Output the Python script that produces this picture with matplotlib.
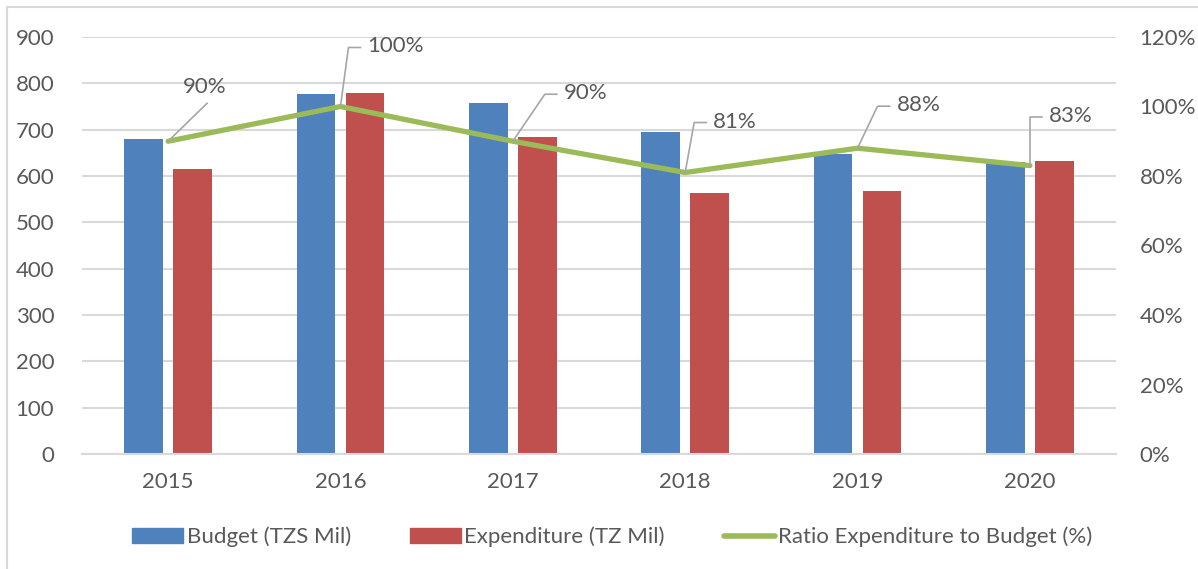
import matplotlib
matplotlib.use("Agg")
import matplotlib.pyplot as plt
from matplotlib.lines import Line2D
from matplotlib.patches import Patch
import numpy as np

plt.rcParams['font.family'] = ['Lato', 'DejaVu Sans']

years = ["2015", "2016", "2017", "2018", "2019", "2020"]
budget = [679, 776, 757, 694, 648, 631]
expenditure = [615, 780, 685, 563, 568, 632]
ratio = [90, 100, 90, 81, 88, 83]
# leader elbow offsets in pixels (dx, dy) for each data label
label_off = [(39, 38), (8, 59), (32, 47), (9, 50), (20, 42), (0, 49)]

BLUE = "#4F81BD"
RED = "#C0504D"
GREEN = "#9BBB59"
TXT = "#595959"
GRID = "#D9D9D9"
LEAD = "#A6A6A6"
FS = 16
W, H = 1198, 569

fig = plt.figure(figsize=(W / 100, H / 100), dpi=100)
ax = fig.add_axes([0.0684, 0.2021, 0.8632, 0.7329])
ax2 = ax.twinx()

x = np.arange(len(years))
bw = 0.224
off = 0.142
ax.bar(x - off, budget, bw, color=BLUE, zorder=2)
ax.bar(x + off, expenditure, bw, color=RED, zorder=2)

ax.set_xlim(-0.5, len(years) - 0.5)
ax.set_ylim(0, 900)
ax.set_yticks(range(0, 901, 100))
ax.grid(axis="y", color=GRID, linewidth=1.5, zorder=0)
ax.set_axisbelow(True)
ax.set_xticks(x)
ax.set_xticklabels(years)
ax.tick_params(axis="both", length=0, labelsize=FS, colors=TXT)
ax.tick_params(axis="x", pad=13)
ax.tick_params(axis="y", pad=20)
for s in ax.spines.values():
    s.set_visible(False)
ax.spines["bottom"].set_visible(True)
ax.spines["bottom"].set_color(GRID)
ax.spines["bottom"].set_linewidth(1.5)

ax2.plot(x, ratio, color=GREEN, linewidth=3.8, solid_capstyle="round", zorder=3)
ax2.set_ylim(0, 120)
ax2.set_yticks(range(0, 121, 20))
ax2.set_yticklabels([f"{v}%" for v in range(0, 121, 20)])
ax2.tick_params(axis="y", length=0, labelsize=FS, colors=TXT, pad=17)
for s in ax2.spines.values():
    s.set_visible(False)

# data labels with elbow leader lines (pixel offsets from each point)
for i, (xi, r) in enumerate(zip(x, ratio)):
    dx, dy = label_off[i]
    px, py = ax2.transData.transform((xi, r))
    if i == 0:
        pts = [(px, py), (px + dx, py + dy)]
        ax2.annotate(f"{r}%", xy=(xi, r), xytext=(dx - 2, dy + 16),
                     textcoords="offset pixels", ha="center", va="center",
                     fontsize=FS, color=TXT)
    else:
        pts = [(px, py), (px + dx, py + dy), (px + dx + 12, py + dy)]
        ax2.annotate(f"{r}%", xy=(xi, r), xytext=(dx + 19, dy + 1),
                     textcoords="offset pixels", ha="left", va="center",
                     fontsize=FS, color=TXT)
    fig.add_artist(Line2D([p[0] / W for p in pts], [p[1] / H for p in pts],
                          color=LEAD, lw=1.2, zorder=4))

handles = [Patch(color=BLUE, label="Budget (TZS Mil)"),
           Patch(color=RED, label="Expenditure (TZ Mil)"),
           Line2D([0], [0], color=GREEN, lw=4, solid_capstyle="round",
                  label="Ratio Expenditure to Budget (%)")]
leg = fig.legend(handles=handles, loc="center", bbox_to_anchor=(0.511, 1 - 537 / H),
                 ncol=3, frameon=False, fontsize=FS, handlelength=2.3,
                 handleheight=0.6, handletextpad=0.15, columnspacing=2.65)
for t in leg.get_texts():
    t.set_color(TXT)

# outer frame (left and top edges)
fig.add_artist(Line2D([7 / W, 7 / W], [0, 1 - 7 / H], color=GRID, lw=1.5))
fig.add_artist(Line2D([7 / W, 1], [1 - 7 / H, 1 - 7 / H], color=GRID, lw=1.5))

fig.savefig("out.png", dpi=100)
